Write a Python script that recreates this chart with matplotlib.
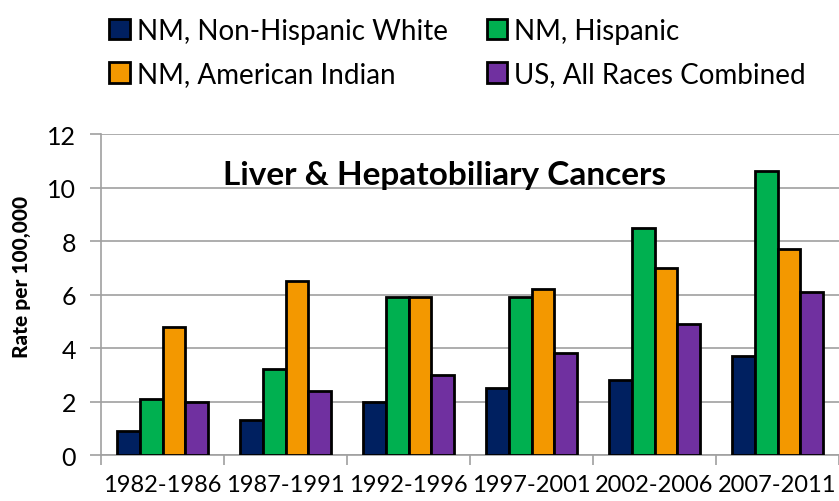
import matplotlib.pyplot as plt
import numpy as np
from matplotlib.patches import Patch

# data
periods = ['1982-1986', '1987-1991', '1992-1996', '1997-2001', '2002-2006', '2007-2011']
series_names = ['NM, Non-Hispanic White', 'NM, Hispanic', 'NM, American Indian', 'US, All Races Combined']
nh_white = [0.9, 1.3, 2.0, 2.5, 2.8, 3.7]
hispanic = [2.1, 3.2, 5.9, 5.9, 8.5, 10.6]
am_indian = [4.8, 6.5, 5.9, 6.2, 7.0, 7.7]
us_all = [2.0, 2.4, 3.0, 3.8, 4.9, 6.1]

colors = ['#002060', '#00B050', '#F39800', '#7030A0']
values = [nh_white, hispanic, am_indian, us_all]

plt.rcParams['font.family'] = ['Lato', 'DejaVu Sans']

fig = plt.figure(figsize=(8.39, 5.02), dpi=100)
ax = fig.add_axes([0.1204, 0.0916, 0.8796, 0.6394])

x = np.arange(len(periods))
w = 0.185
for i, (vals, c) in enumerate(zip(values, colors)):
    ax.bar(x + (i - 1.5) * w, vals, width=w, color=c, edgecolor='black',
           linewidth=2, zorder=3)

ax.set_xlim(-0.5, len(periods) - 0.5)
ax.set_ylim(0, 12)
ax.set_yticks(range(0, 13, 2))
ax.yaxis.grid(True, color='#A0A0A0', linewidth=1.2, zorder=0)
ax.set_axisbelow(True)

# category labels centered, tick marks between categories
ax.set_xticks(x)
ax.set_xticklabels(periods, fontsize=17)
ax.tick_params(axis='x', length=0, pad=14)
ax.set_xticks(np.arange(-0.5, len(periods)), minor=True)
ax.tick_params(axis='x', which='minor', length=7, color='#A0A0A0', width=1.2, direction='out')
ax.tick_params(axis='y', labelsize=18, length=8, color='#A0A0A0', width=1.2, pad=10)

for s in ['top', 'right']:
    ax.spines[s].set_visible(False)
for s in ['left', 'bottom']:
    ax.spines[s].set_color('#A0A0A0')
    ax.spines[s].set_linewidth(1.2)

ax.set_ylabel('Rate per 100,000', fontsize=15, fontweight='black')
ax.yaxis.set_label_coords(-0.095, 0.558)
ax.text(0.465, 0.875, 'Liver & Hepatobiliary Cancers', transform=ax.transAxes,
        ha='center', va='center', fontsize=24, fontweight='bold')

handles = [Patch(facecolor=c, edgecolor='black', linewidth=2) for c in colors]
order = [0, 2, 1, 3]
fig.legend([handles[i] for i in order], [series_names[i] for i in order],
           ncol=2, loc='upper left', bbox_to_anchor=(0.1, 1.012), frameon=False,
           fontsize=20, handlelength=0.75, handleheight=0.75, handletextpad=0.25,
           columnspacing=1.4, labelspacing=0.62)

fig.savefig('out.png', dpi=100)
